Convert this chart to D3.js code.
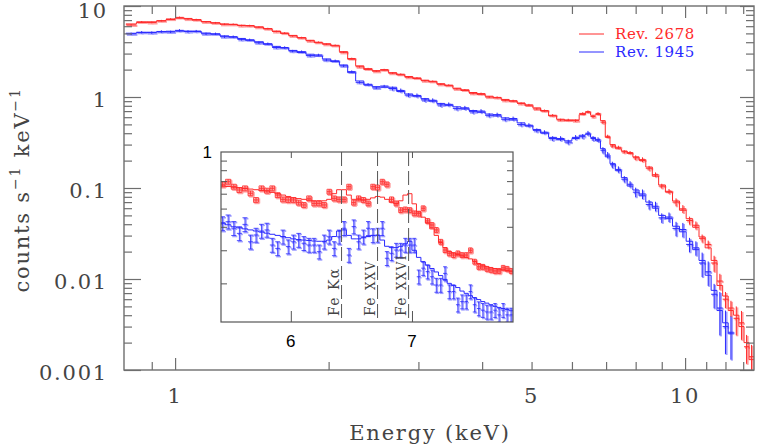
<!DOCTYPE html>
<html><head><meta charset="utf-8">
<script src="https://cdn.jsdelivr.net/npm/d3@7"></script>
<style>body{margin:0;background:#fff}svg{display:block}</style>
</head><body><svg id="c" width="760" height="447"></svg>
<script>
// ---------------- DATA ----------------
const energies = [0.82,0.86,0.90,0.94,0.98,1.02,1.06,1.10,1.15,1.20,1.25,1.30,1.35,1.40,1.46,1.52,1.58,1.64,1.70,1.77,1.84,1.91,1.98,2.06,2.14,2.22,2.30,2.39,2.48,2.57,2.67,2.77,2.87,2.98,3.09,3.20,3.32,3.44,3.57,3.70,3.84,3.98,4.13,4.28,4.44,4.60,4.77,4.94,5.12,5.30,5.50,5.70,5.90,6.10,6.30,6.45,6.60,6.75,6.90,7.05,7.20,7.40,7.60,7.80,8.00,8.25,8.50,8.75,9.00,9.30,9.60,9.90,10.2,10.5,10.8,11.1,11.4,11.7,12.0,12.3,12.6,12.9,13.2,13.5];
const redModel = [6.35,6.6,6.7,6.85,7.1,7.35,7.3,7.0,6.75,6.5,6.35,6.25,6.15,6.05,5.9,5.6,5.3,5.0,4.75,4.45,4.2,3.95,3.85,3.65,3.15,2.6,2.2,2.0,1.95,1.97,1.85,1.75,1.68,1.6,1.53,1.47,1.40,1.33,1.25,1.18,1.12,1.07,1.02,0.98,0.94,0.90,0.86,0.80,0.76,0.70,0.62,0.57,0.55,0.56,0.64,0.68,0.63,0.64,0.55,0.36,0.30,0.27,0.255,0.24,0.22,0.20,0.17,0.135,0.108,0.09,0.072,0.057,0.046,0.037,0.029,0.022,0.016,0.0085,0.0065,0.0045,0.0040,0.0030,0.0020,0.0013];
const redData = [6.2,6.7,6.6,6.9,7.2,7.5,7.2,7.1,6.7,6.55,6.3,6.3,6.1,6.1,5.85,5.65,5.25,5.05,4.7,4.5,4.15,4.0,3.8,3.7,3.1,2.65,2.15,2.05,1.92,2.0,1.83,1.78,1.65,1.62,1.51,1.49,1.38,1.35,1.23,1.2,1.1,1.09,1.0,0.99,0.92,0.91,0.85,0.82,0.74,0.71,0.63,0.56,0.56,0.55,0.66,0.69,0.61,0.66,0.53,0.37,0.29,0.28,0.25,0.245,0.215,0.205,0.165,0.14,0.105,0.092,0.07,0.059,0.044,0.039,0.028,0.024,0.015,0.0095,0.006,0.0048,0.0037,0.0033,0.0018,0.0014];
const redErr = [0.02,0.02,0.02,0.02,0.02,0.02,0.02,0.02,0.02,0.02,0.02,0.02,0.02,0.02,0.02,0.02,0.02,0.02,0.02,0.02,0.02,0.02,0.02,0.02,0.02,0.02,0.02,0.02,0.02,0.02,0.02,0.02,0.02,0.02,0.02,0.02,0.02,0.02,0.02,0.02,0.025,0.025,0.025,0.025,0.025,0.025,0.025,0.025,0.025,0.025,0.03,0.03,0.03,0.03,0.03,0.03,0.03,0.03,0.04,0.04,0.04,0.04,0.04,0.04,0.06,0.06,0.06,0.06,0.06,0.06,0.1,0.1,0.1,0.1,0.1,0.1,0.2,0.2,0.2,0.2,0.35,0.35,0.35,0.35];
const blueModel = [5.02,5.1,5.15,5.2,5.28,5.3,5.3,5.25,5.05,4.9,4.7,4.55,4.4,4.2,4.05,3.8,3.6,3.45,3.25,3.08,2.95,2.82,2.62,2.45,2.25,1.85,1.5,1.35,1.3,1.28,1.28,1.15,1.08,1.02,0.96,0.90,0.85,0.81,0.78,0.74,0.71,0.68,0.65,0.62,0.59,0.56,0.52,0.48,0.44,0.40,0.36,0.34,0.33,0.35,0.38,0.39,0.36,0.33,0.27,0.22,0.185,0.155,0.13,0.105,0.095,0.082,0.070,0.060,0.050,0.046,0.038,0.033,0.026,0.021,0.016,0.011,0.0075,0.0045,0.0033,0.0025];
const blueData = [4.95,5.15,5.1,5.25,5.2,5.4,5.25,5.3,4.95,4.95,4.6,4.6,4.3,4.25,3.95,3.85,3.5,3.5,3.2,3.15,2.85,2.9,2.55,2.5,2.2,1.9,1.45,1.38,1.26,1.32,1.24,1.18,1.05,1.04,0.93,0.92,0.82,0.83,0.75,0.76,0.69,0.70,0.63,0.64,0.57,0.58,0.50,0.49,0.43,0.41,0.35,0.35,0.32,0.36,0.37,0.40,0.35,0.34,0.26,0.23,0.18,0.16,0.125,0.11,0.09,0.086,0.066,0.063,0.047,0.048,0.036,0.035,0.024,0.022,0.015,0.012,0.0068,0.0048,0.003,0.0026];
const blueErr = [0.03,0.03,0.03,0.03,0.03,0.03,0.03,0.03,0.03,0.03,0.03,0.03,0.03,0.03,0.03,0.03,0.03,0.03,0.03,0.03,0.03,0.03,0.03,0.03,0.03,0.03,0.03,0.03,0.03,0.03,0.05,0.05,0.05,0.05,0.05,0.05,0.05,0.05,0.05,0.05,0.05,0.05,0.05,0.05,0.05,0.05,0.05,0.05,0.05,0.05,0.06,0.06,0.06,0.06,0.06,0.06,0.06,0.06,0.08,0.08,0.08,0.08,0.08,0.08,0.12,0.12,0.12,0.12,0.12,0.12,0.18,0.18,0.18,0.18,0.3,0.3,0.3,0.5,0.5,0.5];

// inset (zoom on the Fe-line region)
const insetE = [5.50,5.54,5.58,5.62,5.66,5.70,5.74,5.78,5.82,5.86,5.90,5.94,5.98,6.02,6.06,6.10,6.14,6.18,6.22,6.26,6.30,6.34,6.38,6.42,6.46,6.50,6.54,6.58,6.62,6.66,6.70,6.74,6.78,6.82,6.86,6.90,6.94,6.98,7.02,7.06,7.10,7.14,7.18,7.22,7.26,7.30,7.34,7.38,7.42,7.46,7.50,7.54,7.58,7.62,7.66,7.70,7.74,7.78,7.82,7.86,7.90,7.94];
const redIn = [0.673,0.695,0.654,0.628,0.641,0.603,0.556,0.641,0.623,0.641,0.590,0.560,0.556,0.556,0.538,0.523,0.567,0.533,0.533,0.523,0.615,0.567,0.560,0.560,0.654,0.538,0.567,0.556,0.533,0.654,0.648,0.695,0.673,0.560,0.533,0.491,0.495,0.491,0.472,0.470,0.502,0.430,0.409,0.385,0.333,0.301,0.289,0.283,0.289,0.283,0.283,0.300,0.261,0.245,0.245,0.239,0.236,0.233,0.233,0.242,0.239,0.233];
const redInModel = [0.66,0.655,0.65,0.645,0.64,0.635,0.63,0.625,0.62,0.61,0.60,0.59,0.58,0.57,0.565,0.56,0.555,0.55,0.55,0.55,0.56,0.60,0.63,0.63,0.59,0.56,0.56,0.555,0.56,0.57,0.58,0.575,0.56,0.54,0.53,0.55,0.59,0.60,0.53,0.48,0.45,0.42,0.39,0.36,0.33,0.31,0.295,0.29,0.285,0.28,0.275,0.27,0.262,0.255,0.25,0.245,0.242,0.24,0.238,0.236,0.234,0.232];
const blueIn = [0.417,0.426,0.393,0.369,0.412,0.333,0.362,0.380,0.385,0.320,0.307,0.354,0.314,0.333,0.340,0.327,0.320,0.320,0.295,0.333,0.354,0.307,0.354,0.393,0.283,0.401,0.333,0.354,0.393,0.360,0.362,0.393,0.272,0.289,0.301,0.301,0.320,0.320,0.320,0.217,0.241,0.231,0.217,0.196,0.196,0.226,0.181,0.181,0.154,0.160,0.160,0.181,0.154,0.147,0.144,0.141,0.141,0.144,0.136,0.144,0.136,0.136];
const blueInModel = [0.42,0.41,0.40,0.395,0.39,0.385,0.38,0.375,0.37,0.365,0.36,0.355,0.35,0.345,0.342,0.34,0.338,0.336,0.335,0.335,0.34,0.355,0.38,0.385,0.36,0.345,0.345,0.35,0.355,0.36,0.36,0.34,0.315,0.31,0.31,0.315,0.325,0.335,0.30,0.275,0.26,0.25,0.24,0.23,0.22,0.21,0.20,0.195,0.19,0.182,0.177,0.172,0.168,0.164,0.16,0.157,0.154,0.151,0.149,0.147,0.145,0.143];
const redInErr = 0.03;
const blueInErr = 0.085;

const feLines = [6.4, 6.7, 6.97];
const feLabels = [["Fe ","Kα"],["Fe ","XXV"],["Fe ","XXVI"]];

const yTickVals = [10,1,0.1,0.01,0.001];
const yTickLabels = ["10","1","0.1","0.01","0.001"];
const xTickVals = [1,5,10];
const xTickLabels = ["1","5","10"];
const xMinorTicks = [0.9,2,3,4,5,6,7,8,9,11,12,13];
const xMajorTicks = [1,10];
const insetYTicks = [0.2,0.3,0.4,0.5,0.6,0.7,0.8,0.9];
const insetXTicks = [6,7];
const insetXLabels = ["6","7"];
const legendNames = ["Rev. 2678","Rev. 1945"];

// ---------------- STYLE / LAYOUT ----------------
const RED = "#ff2a2a", RED_L = "#ffa0a0";
const BLUE = "#2a2aff", BLUE_L = "#a0a0ff";
const AX = "#6e6e6e";
const SERIF = "'DejaVu Serif', serif";
const SANS = "'Liberation Sans', Arial, sans-serif";

const M = {l:124, r:754, t:6, b:370};
const I = {l:221, r:513, t:152, b:322};

const svg = d3.select("#c");
const x = d3.scaleLog().domain([0.794, 13.65]).range([M.l, M.r]);
const y = d3.scaleLog().domain([0.001, 10]).range([M.b, M.t]);
const xi = d3.scaleLog().domain([5.49, 7.96]).range([I.l, I.r]);
const yi = d3.scaleLog().domain([0.1246, 1]).range([I.b, I.t]);

const defs = svg.append("defs");
defs.append("clipPath").attr("id","mclip").append("rect")
  .attr("x",M.l).attr("y",M.t).attr("width",M.r-M.l).attr("height",M.b-M.t);
defs.append("clipPath").attr("id","iclip").append("rect")
  .attr("x",I.l).attr("y",I.t).attr("width",I.r-I.l).attr("height",I.b-I.t);

function edges(E){
  return E.map((e,i)=>{
    const lo = i>0 ? Math.sqrt(E[i-1]*e) : e*e/Math.sqrt(e*E[i+1]);
    const hi = i<E.length-1 ? Math.sqrt(e*E[i+1]) : e*e/Math.sqrt(E[i-1]*e);
    return [lo,hi];
  });
}
function records(E, data, model, err){
  const ed = edges(E);
  const out = [];
  for (let i=0;i<data.length;i++){
    if (data[i]==null) continue;
    const er = Array.isArray(err)? err[i] : err;
    out.push({e:E[i], lo:ed[i][0], hi:ed[i][1], v:data[i], m:model[i], er});
  }
  return out;
}
function stepPath(recs, xs, ys){
  const pts = [];
  recs.forEach(r=>{ pts.push([xs(r.lo), ys(r.m)]); pts.push([xs(r.hi), ys(r.m)]); });
  return d3.line()(pts);
}

// ---------------- MAIN PLOT ----------------
const redRecs = records(energies, redData, redModel, redErr);
const blueRecs = records(energies.slice(0, blueData.length), blueData, blueModel, blueErr);

const gm = svg.append("g").attr("clip-path","url(#mclip)");
function crosses(g, recs, color, w, off){
  const gg = g.append("g").attr("stroke",color).attr("stroke-width",w).attr("fill","none")
    .attr("transform",`translate(${off},${off})`);
  gg.selectAll("line.v").data(recs).join("line").attr("class","v")
    .attr("x1",d=>x(d.e)).attr("x2",d=>x(d.e))
    .attr("y1",d=>y(d.v*(1+d.er))).attr("y2",d=>y(Math.max(d.v*(1-d.er),1e-4)));
  gg.selectAll("line.h").data(recs).join("line").attr("class","h")
    .attr("x1",d=>x(d.lo)).attr("x2",d=>x(d.hi))
    .attr("y1",d=>y(d.v)).attr("y2",d=>y(d.v));
}
crosses(gm, redRecs, RED_L, 2.2, 1);
crosses(gm, blueRecs, BLUE_L, 2.2, 1);
gm.append("path").attr("d",stepPath(redRecs,x,y)).attr("fill","none").attr("stroke",RED).attr("stroke-width",1);
gm.append("path").attr("d",stepPath(blueRecs,x,y)).attr("fill","none").attr("stroke",BLUE).attr("stroke-width",1);
crosses(gm, redRecs, RED, 1, 0);
crosses(gm, blueRecs, BLUE, 1, 0);

// main axes (frame + inward ticks)
const yMinor = [];
[0.001,0.01,0.1,1].forEach(d=>{ for(let k=2;k<=9;k++) yMinor.push(d*k); });
function tickGroup(axis, tr){
  const g = svg.append("g").attr("transform",tr).attr("color",AX).call(axis);
  g.select(".domain").remove();
  g.selectAll("line").attr("stroke-width",1.2);
  return g;
}
tickGroup(d3.axisLeft(y).tickValues(yMinor).tickSize(-8).tickFormat(""), `translate(${M.l},0)`);
tickGroup(d3.axisLeft(y).tickValues(yTickVals).tickSize(-17).tickFormat(""), `translate(${M.l},0)`);
tickGroup(d3.axisRight(y).tickValues(yMinor).tickSize(-8).tickFormat(""), `translate(${M.r},0)`);
tickGroup(d3.axisRight(y).tickValues(yTickVals).tickSize(-14).tickFormat(""), `translate(${M.r},0)`);
tickGroup(d3.axisBottom(x).tickValues(xMinorTicks).tickSize(-8).tickFormat(""), `translate(0,${M.b})`);
tickGroup(d3.axisBottom(x).tickValues(xMajorTicks).tickSize(-12).tickFormat(""), `translate(0,${M.b})`);
tickGroup(d3.axisTop(x).tickValues(xMinorTicks).tickSize(-8).tickFormat(""), `translate(0,${M.t})`);
tickGroup(d3.axisTop(x).tickValues(xMajorTicks).tickSize(-12).tickFormat(""), `translate(0,${M.t})`);
svg.append("rect").attr("x",M.l).attr("y",M.t).attr("width",M.r-M.l).attr("height",M.b-M.t)
  .attr("fill","none").attr("stroke",AX).attr("stroke-width",1.4);

// tick labels
svg.append("g").selectAll("text").data(yTickVals).join("text")
  .attr("x",108).attr("y",d=>Math.max(y(d)+2, 10)).attr("dy","0.36em").attr("text-anchor","end")
  .attr("font-family",SERIF).attr("font-size",21).attr("letter-spacing",1.8).attr("fill","#444")
  .text((d,i)=>yTickLabels[i]);
svg.append("g").selectAll("text").data(xTickVals).join("text")
  .attr("x",d=>x(d)).attr("y",403).attr("text-anchor","middle")
  .attr("font-family",SERIF).attr("font-size",21).attr("letter-spacing",1.8).attr("fill","#444")
  .text((d,i)=>xTickLabels[i]);

// axis titles
svg.append("text").attr("x",430).attr("y",440).attr("text-anchor","middle")
  .attr("font-family",SERIF).attr("font-size",21).attr("letter-spacing",1.8).attr("fill","#444")
  .text("Energy (keV)");
const yl = svg.append("text").attr("transform","translate(29,190) rotate(-90)").attr("text-anchor","middle")
  .attr("font-family",SERIF).attr("font-size",21).attr("letter-spacing",1.8).attr("fill","#444");
yl.append("tspan").text("counts s");
yl.append("tspan").attr("font-size",14).attr("dy",-9).text("−1");
yl.append("tspan").attr("dy",9).text(" keV");
yl.append("tspan").attr("font-size",14).attr("dy",-9).text("−1");

// legend
const lg = svg.append("g");
[[RED,34],[BLUE,52]].forEach(([c,yy],i)=>{
  lg.append("line").attr("x1",579).attr("x2",604).attr("y1",yy).attr("y2",yy).attr("stroke",c).attr("stroke-width",1);
  lg.append("text").attr("x",615).attr("y",yy+5).attr("font-family",SERIF).attr("font-size",15)
    .attr("letter-spacing",0.6).attr("fill",c).text(legendNames[i]);
});

// ---------------- INSET ----------------
svg.append("rect").attr("x",I.l).attr("y",I.t).attr("width",I.r-I.l).attr("height",I.b-I.t).attr("fill","#fff");
const redInRecs = records(insetE, redIn, redInModel, redInErr);
const blueInRecs = records(insetE, blueIn, blueInModel, blueInErr);
const gi = svg.append("g").attr("clip-path","url(#iclip)");

// Fe line markers
const gfe = svg.append("g");
feLines.forEach((e,i)=>{
  gfe.append("line").attr("x1",xi(e)).attr("x2",xi(e)).attr("y1",I.t).attr("y2",I.b)
    .attr("stroke","#555").attr("stroke-width",1).attr("stroke-dasharray","14,5");
  const t = gfe.append("text").attr("transform",`translate(${xi(e)-3},${I.b-6}) rotate(-90)`)
    .attr("font-family",SERIF).attr("font-size",14).attr("letter-spacing",1.4).attr("fill","#444");
  t.append("tspan").text(feLabels[i][0]);
  t.append("tspan").attr("font-size", i===0?14:12).text(feLabels[i][1]);
});

function insetMarks(recs, color, w, boxed, off){
  const g = gi.append("g").attr("stroke",color).attr("stroke-width",w).attr("fill","none")
    .attr("transform",`translate(${off},${off})`);
  recs.forEach(d=>{
    const x0=xi(d.lo)+0.3, x1=xi(d.hi)-0.3, xc=xi(d.e);
    const yt=yi(d.v*(1+d.er)), yb=yi(d.v*(1-d.er)), yc=yi(d.v);
    g.append("line").attr("x1",xc).attr("x2",xc).attr("y1",yt).attr("y2",yb);
    g.append("line").attr("x1",x0).attr("x2",x1).attr("y1",yc).attr("y2",yc);
    g.append("line").attr("x1",x0).attr("x2",x1).attr("y1",yt).attr("y2",yt);
    g.append("line").attr("x1",x0).attr("x2",x1).attr("y1",yb).attr("y2",yb);
    if (boxed){
      g.append("line").attr("x1",x0).attr("x2",x0).attr("y1",yt).attr("y2",yb);
      g.append("line").attr("x1",x1).attr("x2",x1).attr("y1",yt).attr("y2",yb);
    }
  });
}
insetMarks(redInRecs, RED_L, 1.6, true, 1);
insetMarks(blueInRecs, BLUE_L, 1.6, false, 1);
gi.append("path").attr("d",stepPath(redInRecs,xi,yi)).attr("fill","none").attr("stroke",RED).attr("stroke-width",1);
gi.append("path").attr("d",stepPath(blueInRecs,xi,yi)).attr("fill","none").attr("stroke",BLUE).attr("stroke-width",1);
insetMarks(redInRecs, RED, 0.8, true, 0);
insetMarks(blueInRecs, BLUE, 0.8, false, 0);

// inset axes
function itick(axis, tr){
  const g = svg.append("g").attr("transform",tr).attr("color","#555").call(axis);
  g.select(".domain").remove();
}
itick(d3.axisLeft(yi).tickValues(insetYTicks).tickSize(-6).tickFormat(""), `translate(${I.l},0)`);
itick(d3.axisRight(yi).tickValues(insetYTicks).tickSize(-6).tickFormat(""), `translate(${I.r},0)`);
itick(d3.axisBottom(xi).tickValues(insetXTicks).tickSize(-11).tickFormat(""), `translate(0,${I.b})`);
itick(d3.axisTop(xi).tickValues(insetXTicks).tickSize(-6).tickFormat(""), `translate(0,${I.t})`);
svg.append("rect").attr("x",I.l).attr("y",I.t).attr("width",I.r-I.l).attr("height",I.b-I.t)
  .attr("fill","none").attr("stroke","#555").attr("stroke-width",1.2);
svg.append("text").attr("x",212).attr("y",yi(1)).attr("dy","0.36em").attr("text-anchor","end")
  .attr("font-family",SANS).attr("font-size",17).attr("fill","#000").text("1");
svg.append("g").selectAll("text").data(insetXTicks).join("text")
  .attr("x",d=>xi(d)).attr("y",347).attr("text-anchor","middle")
  .attr("font-family",SANS).attr("font-size",17).attr("fill","#000")
  .text((d,i)=>insetXLabels[i]);
</script></body></html>
